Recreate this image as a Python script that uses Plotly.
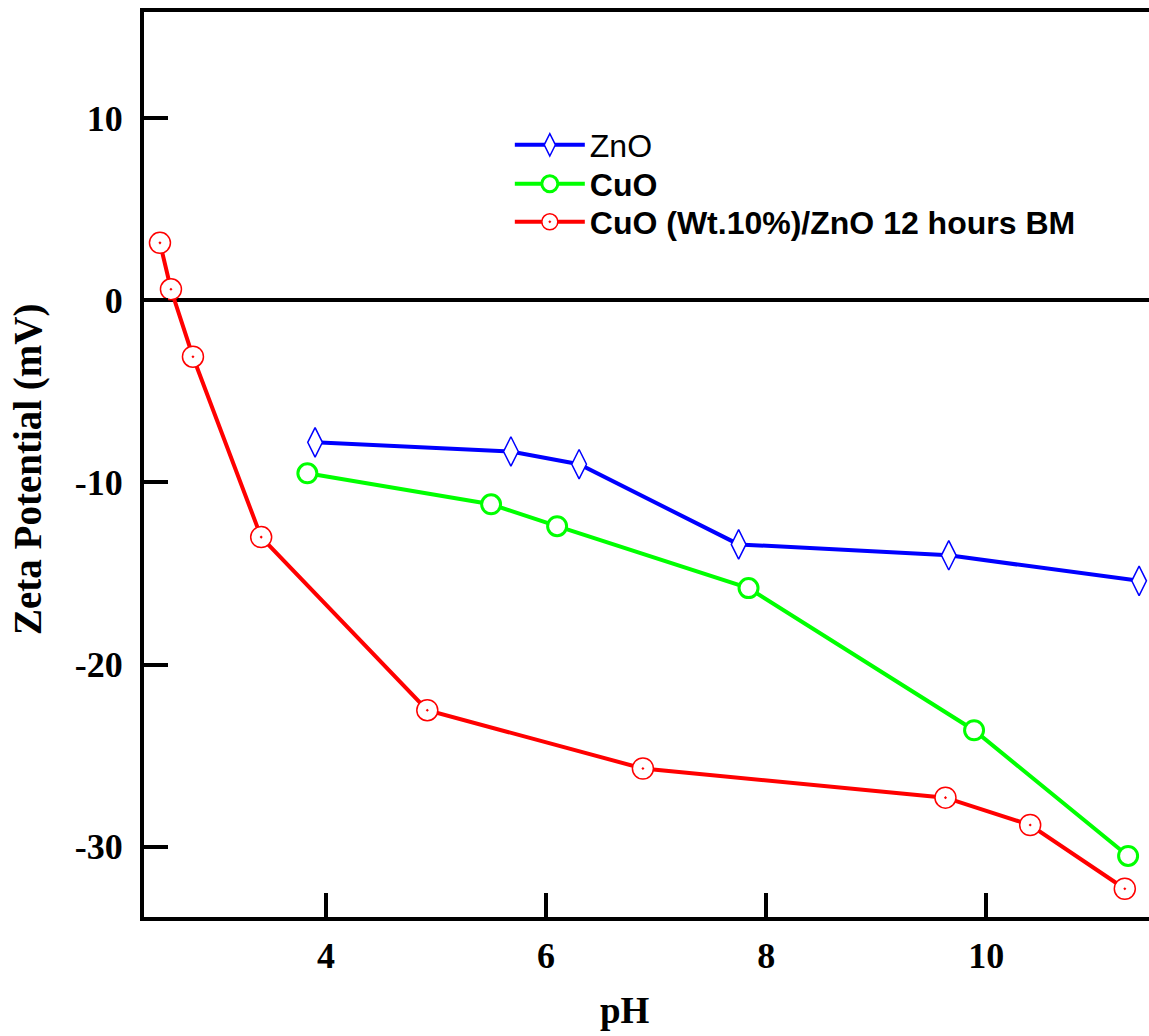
import plotly.graph_objects as go

# pH values and zeta potentials (mV) for each sample
znO_ph = [3.90, 5.68, 6.30, 7.75, 9.66, 11.39]
znO_zeta = [-7.8, -8.3, -9.0, -13.4, -14.0, -15.4]

cuO_ph = [3.83, 5.50, 6.10, 7.84, 9.89, 11.29]
cuO_zeta = [-9.5, -11.2, -12.4, -15.8, -23.6, -30.5]

mix_ph = [2.49, 2.59, 2.79, 3.41, 4.92, 6.88, 9.63, 10.40, 11.26]
mix_zeta = [3.15, 0.6, -3.1, -13.0, -22.5, -25.7, -27.3, -28.8, -32.3]

x_ticks = [4, 6, 8, 10]
y_ticks = [-30, -20, -10, 0, 10]
y_tick_text = ["-30", "-20", "-10", "0", "10"]

fig = go.Figure()

fig.add_trace(go.Scatter(
    x=znO_ph, y=znO_zeta, mode="lines+markers", name="ZnO",
    legend="legend",
    line=dict(color="#0000FF", width=4),
    marker=dict(symbol="diamond-tall", size=21, color="white",
                line=dict(color="#0000FF", width=1.5)),
))
fig.add_trace(go.Scatter(
    x=cuO_ph, y=cuO_zeta, mode="lines+markers", name="<b>CuO</b>",
    legend="legend2",
    line=dict(color="#00FF00", width=4),
    marker=dict(symbol="circle", size=19, color="white",
                line=dict(color="#00FF00", width=3)),
))
fig.add_trace(go.Scatter(
    x=mix_ph, y=mix_zeta, mode="lines+markers",
    name="<b>CuO (Wt.10%)/ZnO 12 hours BM</b>",
    legend="legend3",
    line=dict(color="#FF0000", width=4),
    marker=dict(symbol="circle-dot", size=21, color="white",
                line=dict(color="#FF0000", width=1.5)),
))

tick_font = dict(family="Liberation Serif", size=36, color="black", weight="bold")
legend_font = dict(family="Liberation Sans", size=32, color="black")


def legend_row(y):
    # one legend box per series so the rows can be spaced freely
    return dict(
        x=0.364, y=y, xanchor="left", yanchor="middle",
        bgcolor="rgba(0,0,0,0)", font=legend_font, itemwidth=70,
    )


fig.update_layout(
    width=1149, height=1036,
    margin=dict(l=144, r=0, t=12, b=119),
    plot_bgcolor="white", paper_bgcolor="white",
    showlegend=True,
    legend=legend_row(0.853),
    legend2=legend_row(0.810),
    legend3=legend_row(0.768),
    xaxis=dict(
        range=[2.345, 11.48], tickvals=x_ticks,
        showline=True, linecolor="black", linewidth=4, mirror=True,
        ticks="inside", ticklen=24, tickwidth=4, tickcolor="black",
        showgrid=False, zeroline=False, tickfont=tick_font,
        ticklabelstandoff=4,
    ),
    yaxis=dict(
        range=[-33.85, 15.82], tickvals=y_ticks, ticktext=y_tick_text,
        showline=True, linecolor="black", linewidth=4, mirror=False,
        ticks="inside", ticklen=24, tickwidth=4, tickcolor="black",
        showgrid=False, zeroline=True, zerolinecolor="black", zerolinewidth=4,
        tickfont=tick_font, ticklabelstandoff=10,
    ),
    annotations=[
        dict(text="<b>pH</b>", xref="paper", yref="paper",
             x=0.4786, y=-0.103, xanchor="center", yanchor="middle",
             showarrow=False,
             font=dict(family="Liberation Serif", size=37, color="black")),
        dict(text="<b>Zeta Potential (mV)</b>", xref="paper", yref="paper",
             x=-0.1154, y=0.494, xanchor="center", yanchor="middle",
             textangle=-90, showarrow=False,
             font=dict(family="Liberation Serif", size=39, color="black")),
    ],
)

fig.write_html("out.html")
